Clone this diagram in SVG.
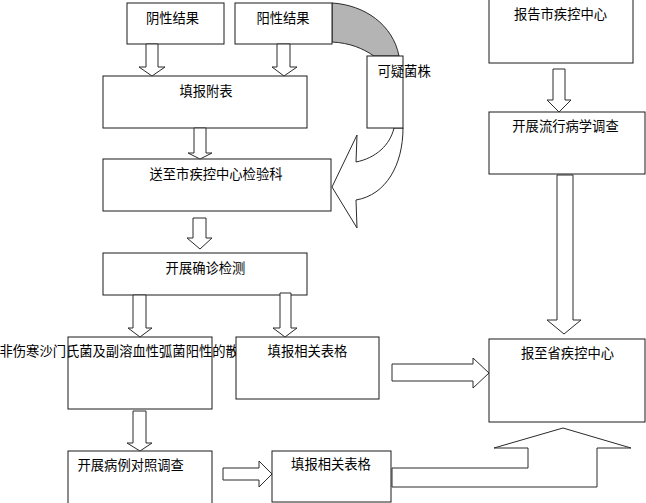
<svg xmlns="http://www.w3.org/2000/svg" width="646" height="503" viewBox="0 0 646 503">
<style>
.box{fill:#fff;stroke:#1a1a1a;stroke-width:1}
.arr{fill:#fff;stroke:#2a2a2a;stroke-width:1;stroke-linejoin:miter}
.grey{fill:#b4b4b4;stroke:#2a2a2a;stroke-width:1}
text{font-family:"Noto Sans CJK SC","Noto Sans CJK TC",sans-serif;font-size:13.3px;fill:#000}
.c{text-anchor:middle}
</style>
<rect width="646" height="503" fill="#fff"/>
<g id="curved-arrow">
<path class="grey" d="M332,3 C365,5 393,25 399,56 L374,56 C362,48 350,43 332,42 Z"/>
<path class="arr" d="M394,128 C390,145 376,158 356,162 L357,135 L332,187 L357,228 L356,200 C386,195 403,165 403,128 Z"/>
</g>
<g id="n-neg"><rect class="box" x="127" y="3" width="97" height="41"/><text class="c" x="172.5" y="22.5">阴性结果</text></g>
<g id="n-pos"><rect class="box" x="235" y="3" width="97" height="41"/><text class="c" x="283" y="22.5">阳性结果</text></g>
<g id="n-fill"><rect class="box" x="103" y="76" width="204" height="52"/><text class="c" x="206" y="95.5">填报附表</text></g>
<g id="n-send"><rect class="box" x="103" y="159" width="228" height="52"/><text class="c" x="216" y="178.5">送至市疾控中心检验科</text></g>
<g id="n-suspect"><rect class="box" x="367" y="56" width="36" height="72"/><text x="377.5" y="75.5">可疑菌株</text></g>
<g id="n-confirm"><rect class="box" x="103" y="253" width="204" height="42"/><text class="c" x="205.5" y="272.5">开展确诊检测</text></g>
<g id="n-nontyphoid"><rect class="box" x="68" y="337" width="144" height="72"/><text x="-0.5" y="355.5">非伤寒沙门氏菌及副溶血性弧菌阳性的散</text></g>
<g id="n-form1"><rect class="box" x="236" y="337" width="143" height="62"/><text class="c" x="307.5" y="355.5">填报相关表格</text></g>
<g id="n-casecontrol"><rect class="box" x="68" y="451" width="144" height="60"/><text x="77.5" y="469.5">开展病例对照调查</text></g>
<g id="n-form2"><rect class="box" x="272" y="451" width="119" height="51"/><text class="c" x="331" y="468.5">填报相关表格</text></g>
<g id="n-reportcity"><rect class="box" x="489" y="-1" width="144" height="64"/><text class="c" x="560.5" y="18.5">报告市疾控中心</text></g>
<g id="n-epi"><rect class="box" x="489" y="112" width="156" height="62"/><text class="c" x="565.5" y="130.5">开展流行病学调查</text></g>
<g id="n-province"><rect class="box" x="489" y="339" width="156" height="83"/><text class="c" x="567.5" y="357.5">报至省疾控中心</text></g>
<g id="connectors">
<polygon class="arr" points="146,44 158,44 158,67 165,67 152,76 139,67 146,67"/>
<polygon class="arr" points="277,44 290,44 290,67 297,67 284,76 272,67 277,67"/>
<polygon class="arr" points="194,128 206,128 206,153 212,153 200,159 188,153 194,153"/>
<polygon class="arr" points="193,218 206,218 206,238 212,238 200,249 187,238 193,238"/>
<polygon class="arr" points="133,295 146,295 146,328 152,328 140,337 128,328 133,328"/>
<polygon class="arr" points="280,293 291,293 291,328 297,328 285,337 273,328 280,328"/>
<polygon class="arr" points="133,411 146,411 146,443 152,443 140,451 127,443 133,443"/>
<polygon class="arr" points="553,69 565,69 565,100 571,100 559,112 547,100 553,100"/>
<polygon class="arr" points="557,175 573,175 573,320 581,320 564,334 547,320 557,320"/>
<polygon class="arr" points="223,468 259,468 259,461 272,474 259,487 259,480 223,480"/>
<polygon class="arr" points="392,364 473,364 473,358 489,373 473,388 473,381 392,381"/>
<polygon class="arr" points="392,468 528,468 528,448 494,448 563,428 631,448 597,448 597,487 392,487"/>
</g>
</svg>
